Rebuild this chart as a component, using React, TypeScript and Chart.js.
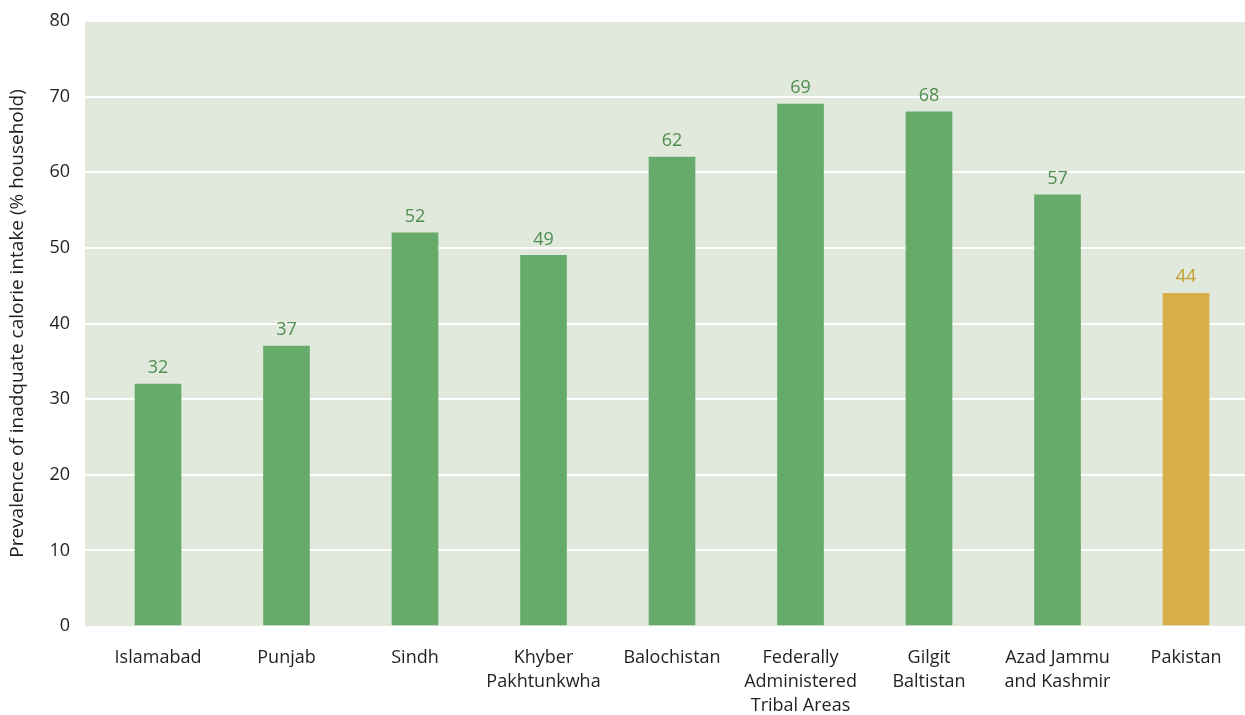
import React, { useEffect, useRef } from "react";
import { Chart, registerables } from "chart.js";

Chart.register(...registerables);

const categories: string[][] = [
  ["Islamabad"],
  ["Punjab"],
  ["Sindh"],
  ["Khyber", "Pakhtunkwha"],
  ["Balochistan"],
  ["Federally", "Administered", "Tribal Areas"],
  ["Gilgit", "Baltistan"],
  ["Azad Jammu", "and Kashmir"],
  ["Pakistan"],
];
const values: number[] = [32, 37, 52, 49, 62, 69, 68, 57, 44];
const barColors: string[] = ["#67ab6b", "#67ab6b", "#67ab6b", "#67ab6b", "#67ab6b", "#67ab6b", "#67ab6b", "#67ab6b", "#d6af4a"];
const labelColors: string[] = ["#4f8d4f", "#4f8d4f", "#4f8d4f", "#4f8d4f", "#4f8d4f", "#4f8d4f", "#4f8d4f", "#4f8d4f", "#c49d2c"];
const yTitle = "Prevalence of inadquate calorie intake (% household)";

const FONT = "'Open Sans', 'Noto Sans', sans-serif";

export default function App() {
  const ref = useRef<HTMLCanvasElement | null>(null);
  useEffect(() => {
    document.body.style.margin = "0";
    const bgPlugin = {
      id: "bg",
      beforeDraw(chart: any) {
        const { ctx, chartArea } = chart;
        ctx.save();
        ctx.fillStyle = "#e1e9dd";
        ctx.fillRect(chartArea.left, chartArea.top, chartArea.right - chartArea.left, chartArea.bottom - chartArea.top);
        ctx.restore();
      },
    };
    const labelPlugin = {
      id: "vals",
      afterDatasetsDraw(chart: any) {
        const { ctx } = chart;
        const meta = chart.getDatasetMeta(0);
        ctx.save();
        ctx.font = `18px ${FONT}`;
        ctx.textAlign = "center";
        ctx.textBaseline = "middle";
        meta.data.forEach((el: any, i: number) => {
          ctx.fillStyle = labelColors[i];
          ctx.fillText(String(values[i]), el.x, el.y - 16);
        });
        ctx.restore();
      },
    };
    const chart = new Chart(ref.current as HTMLCanvasElement, {
      type: "bar",
      data: {
        datasets: [
          {
            data: values.map((v, i) => ({ x: i, y: v })) as any,
            backgroundColor: barColors,
            barThickness: 46,
          },
        ],
      },
      options: {
        animation: false,
        responsive: false,
        maintainAspectRatio: false,
        layout: { autoPadding: false, padding: { top: 21, right: 0, left: 0, bottom: 0 } },
        plugins: { legend: { display: false }, tooltip: { enabled: false } },
        scales: {
          x: {
            type: "linear",
            offset: false,
            min: -0.568,
            max: 8.459,
            grid: { display: false, offset: false },
            border: { display: false },
            afterBuildTicks: (scale: any) => {
              scale.ticks = categories.map((_, i) => ({ value: i }));
            },
            afterFit: (scale: any) => {
              scale.height = 89;
              scale.paddingLeft = 0;
              scale.paddingRight = 0;
            },
            ticks: {
              autoSkip: false,
              maxRotation: 0,
              minRotation: 0,
              padding: 12,
              color: "#231f20",
              font: { family: FONT, size: 18, lineHeight: 1.33 },
              callback: (v: any) => categories[Math.round(Number(v))] ?? "",
            },
          },
          y: {
            min: 0,
            max: 80,
            grid: {
              color: (c: any) => (c.tick && c.tick.value === 0 ? "rgba(0,0,0,0)" : "#ffffff"),
              lineWidth: 2,
              drawTicks: false,
            },
            border: { display: false },
            afterFit: (scale: any) => {
              scale.width = 85;
              scale.paddingTop = 0;
              scale.paddingBottom = 0;
            },
            ticks: {
              stepSize: 10,
              padding: 15,
              color: "#231f20",
              font: { family: FONT, size: 18 },
            },
            title: {
              display: true,
              text: yTitle,
              color: "#231f20",
              font: { family: FONT, size: 19 },
              padding: { top: 6, bottom: 0 },
            },
          },
        },
      },
      plugins: [bgPlugin, labelPlugin],
    });
    return () => chart.destroy();
  }, []);
  return (
    <div style={{ width: 1245, height: 715 }}>
      <canvas ref={ref} width={1245} height={715} style={{ width: 1245, height: 715, display: "block" }} />
    </div>
  );
}
